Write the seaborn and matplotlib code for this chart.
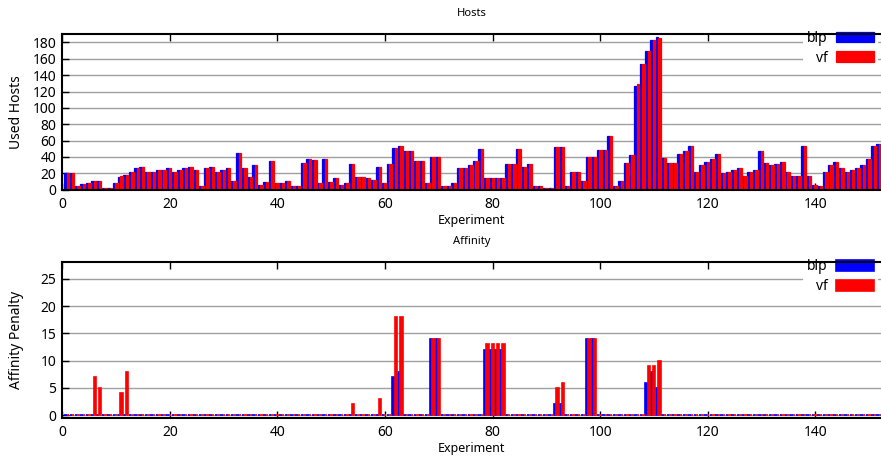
import numpy as np
import pandas as pd
import matplotlib
matplotlib.use("Agg")
import matplotlib.pyplot as plt
import seaborn as sns

# ---------------- data ----------------
experiment = list(range(1, 153))

hosts_blp = [20, 20, 4, 7, 8, 10, 11, 2, 2, 8,
             16, 18, 21, 26, 28, 22, 22, 24, 24, 26,
             22, 24, 26, 28, 24, 4, 26, 28, 22, 24,
             26, 11, 45, 26, 15, 30, 6, 9, 35, 8,
             8, 10, 4, 4, 33, 37, 36, 8, 37, 9,
             14, 6, 8, 31, 16, 16, 14, 12, 28, 8,
             31, 51, 53, 47, 47, 35, 35, 8, 40, 40,
             4, 4, 8, 26, 26, 30, 35, 50, 14, 14,
             14, 14, 31, 31, 50, 28, 31, 4, 4, 2,
             2, 52, 52, 5, 21, 21, 11, 40, 40, 49,
             49, 65, 5, 11, 33, 42, 127, 154, 170, 183,
             187, 39, 32, 32, 43, 47, 53, 21, 30, 34,
             38, 43, 20, 22, 24, 26, 17, 22, 24, 47,
             32, 30, 31, 34, 21, 17, 17, 53, 17, 6,
             4, 21, 30, 34, 27, 21, 24, 26, 30, 37,
             53, 56]

hosts_vf = [20, 20, 4, 7, 8, 10, 11, 2, 2, 8,
            17, 18, 21, 26, 28, 22, 22, 24, 24, 26,
            22, 24, 26, 28, 24, 4, 26, 28, 22, 24,
            26, 11, 45, 26, 15, 30, 6, 9, 35, 8,
            8, 10, 4, 4, 33, 37, 36, 8, 37, 9,
            14, 6, 8, 31, 16, 16, 14, 12, 28, 8,
            31, 51, 53, 47, 47, 35, 35, 8, 40, 40,
            4, 4, 8, 26, 26, 30, 35, 50, 14, 14,
            14, 14, 31, 31, 50, 28, 31, 4, 4, 2,
            2, 52, 52, 5, 21, 21, 11, 40, 40, 49,
            49, 65, 5, 11, 33, 42, 129, 154, 170, 183,
            186, 39, 32, 32, 43, 47, 53, 21, 30, 34,
            38, 43, 20, 22, 24, 26, 17, 22, 24, 47,
            32, 30, 31, 34, 21, 17, 17, 53, 17, 6,
            4, 21, 30, 34, 27, 21, 24, 26, 30, 37,
            53, 56]

# affinity penalty: experiments with a non-zero value (all others are 0)
affinity_experiments = [6, 7, 11, 12, 54, 59, 62, 63, 69, 70,
                        79, 80, 81, 82, 92, 93, 98, 99, 109, 110, 111]
affinity_blp_nonzero = [0, 0, 0, 0, 0, 0, 7, 8, 14, 14,
                        12, 12, 12, 12, 2, 2, 14, 14, 6, 8, 5]
affinity_vf_nonzero = [7, 5, 4, 8, 2, 3, 18, 18, 14, 14,
                       13, 13, 13, 13, 5, 6, 14, 14, 9, 9, 10]

series_names = ["blp", "vf"]
series_colors = {"blp": "#0000ff", "vf": "#ff0000"}

x_ticks = [0, 20, 40, 60, 80, 100, 120, 140]
hosts_yticks = [0, 20, 40, 60, 80, 100, 120, 140, 160, 180]
affinity_yticks = [0, 5, 10, 15, 20, 25]

# ---------------- build tables ----------------
n = len(experiment)
aff_blp = np.zeros(n)
aff_vf = np.zeros(n)
for e, b, v in zip(affinity_experiments, affinity_blp_nonzero, affinity_vf_nonzero):
    aff_blp[e - 1] = b
    aff_vf[e - 1] = v

pos = np.array(experiment, dtype=float) - 0.19


def make_df(a, b):
    return pd.DataFrame({
        "x": np.concatenate([pos, pos]),
        "value": np.concatenate([np.asarray(a, float), np.asarray(b, float)]),
        "series": ["blp"] * n + ["vf"] * n,
    })


df_hosts = make_df(hosts_blp, hosts_vf)
df_aff = make_df(aff_blp, aff_vf)

# ---------------- figure ----------------
plt.rcParams["font.family"] = ["Noto Sans", "DejaVu Sans"]
W, H = 881, 457
fig = plt.figure(figsize=(W / 100, H / 100), dpi=100)


def fx(px):
    return px / W


def fy(px):
    return 1 - px / H


ax1 = fig.add_axes([fx(62), fy(190), fx(881) - fx(62), fy(34.3) - fy(190)])
ax2 = fig.add_axes([fx(62), fy(418.3), fx(881) - fx(62), fy(262.3) - fy(418.3)])


def style_axes(ax, df, ylim, yticks, title, ylabel, leg_top_frac, edge_lw):
    sns.barplot(data=df, x="x", y="value", hue="series", hue_order=series_names,
                palette=series_colors, native_scale=True, width=0.92, dodge=True,
                saturation=1, errorbar=None, ax=ax, linewidth=edge_lw, legend=True)
    for p in ax.patches:
        p.set_edgecolor(p.get_facecolor())
    ax.set_xlim(-0.05, 152.2)
    ax.set_ylim(*ylim)
    ax.set_xticks(x_ticks)
    ax.set_xticklabels([str(t) for t in x_ticks])
    ax.set_yticks(yticks)
    ax.set_yticklabels([str(t) for t in yticks])
    ax.yaxis.grid(True, color="#a0a0a0", linewidth=1.0)
    ax.xaxis.grid(False)
    ax.set_axisbelow(True)
    ax.tick_params(axis="both", direction="in", length=5, width=1,
                   labelsize=10, top=True, right=False, colors="black")
    ax.tick_params(axis="x", pad=5)
    ax.tick_params(axis="y", pad=4)
    for s in ["left", "top", "bottom"]:
        ax.spines[s].set_linewidth(1.5)
        ax.spines[s].set_color("black")
    ax.spines["right"].set_visible(False)
    ax.set_title(title, fontsize=8, pad=13)
    ax.set_xlabel("Experiment", fontsize=9)
    ax.set_ylabel(ylabel, fontsize=10)
    ax.xaxis.set_label_coords(0.5, -0.152)
    ax.yaxis.set_label_coords(-0.047, 0.5)
    handles, labels = ax.get_legend_handles_labels()
    leg = ax.legend(handles, labels, loc="upper right",
                    bbox_to_anchor=(0.996, leg_top_frac), markerfirst=False,
                    frameon=True, framealpha=1, facecolor="white",
                    edgecolor="none", fancybox=False, fontsize=10,
                    handlelength=2.7, handleheight=0.8, handletextpad=0.6,
                    labelspacing=0.35, borderpad=0.3, borderaxespad=0)
    leg.set_zorder(2.4)


style_axes(ax1, df_hosts, (-0.5, 190), hosts_yticks, "Hosts", "Used Hosts", 1.05, 0.9)
style_axes(ax2, df_aff, (-0.55, 28), affinity_yticks, "Affinity", "Affinity Penalty", 1.045, 1.2)

fig.savefig("out.png", dpi=100)
